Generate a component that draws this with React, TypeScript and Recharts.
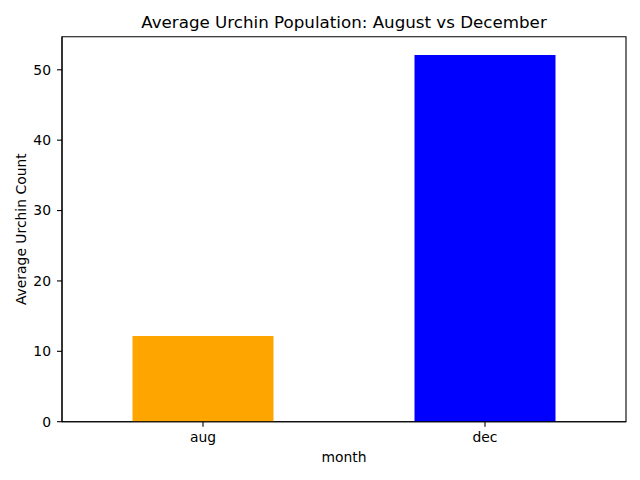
import React from 'react';
import { BarChart, Bar, XAxis, YAxis, Cell, ReferenceArea } from 'recharts';

const months = ['aug', 'dec'];
const avgCounts = [12.16, 52.1];
const barColors = ['#FFA500', '#0000FF'];
const yTicks = [0, 10, 20, 30, 40, 50];
const yMax = 54.7;

const data = months.map((m, i) => ({ month: m, count: avgCounts[i] }));

const FONT = 'DejaVu Sans, sans-serif';
const tickStyle = { fontSize: 13.9, fill: '#000', fontFamily: FONT };

export default function App() {
  return (
    <div style={{ position: 'absolute', left: 0, top: 0, width: 640, height: 480, background: '#fff' }}>
      <BarChart
        width={640}
        height={480}
        data={data}
        margin={{ top: 36.7, right: 14, left: 0, bottom: 0 }}
        barCategoryGap="25%"
        style={{ fontFamily: FONT }}
      >
        <text x={344} y={28.3} textAnchor="middle" fontSize={16.7} fontFamily={FONT} fill="#000">
          Average Urchin Population: August vs December
        </text>
        <XAxis
          dataKey="month"
          height={58.3}
          tickSize={5}
          tickMargin={5.7}
          tick={tickStyle}
          axisLine={{ stroke: '#000', strokeWidth: 1.1 }}
          tickLine={{ stroke: '#000', strokeWidth: 1.1 }}
          label={{ value: 'month', position: 'insideBottom', offset: 17.7, style: { fontSize: 13.9, fill: '#000', fontFamily: FONT } }}
        />
        <YAxis
          width={62}
          domain={[0, yMax]}
          ticks={yTicks}
          allowDataOverflow
          tickSize={5}
          tickMargin={6}
          tick={tickStyle}
          axisLine={{ stroke: '#000', strokeWidth: 1.1 }}
          tickLine={{ stroke: '#000', strokeWidth: 1.1 }}
          label={{ value: 'Average Urchin Count', angle: -90, position: 'insideLeft', offset: 21, style: { textAnchor: 'middle', fontSize: 13.9, fill: '#000', fontFamily: FONT } }}
        />
        <Bar dataKey="count" isAnimationActive={false}>
          {data.map((d, i) => (
            <Cell key={d.month} fill={barColors[i]} />
          ))}
        </Bar>
        <ReferenceArea
          y1={0}
          y2={yMax}
          fill="none"
          fillOpacity={0}
          stroke="#000"
          strokeWidth={1.1}
          ifOverflow="visible"
        />
      </BarChart>
    </div>
  );
}
